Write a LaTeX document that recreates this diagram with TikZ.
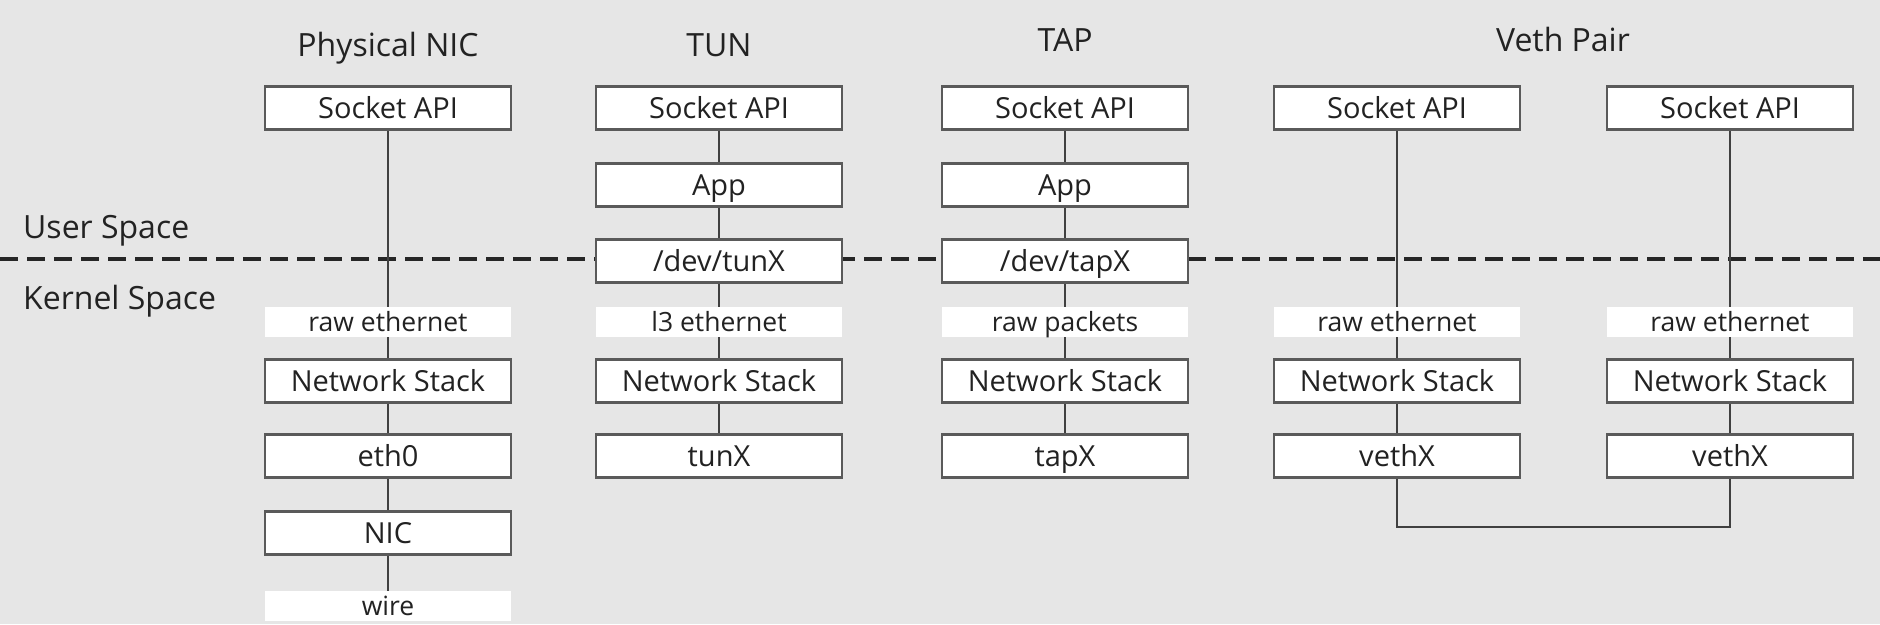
\documentclass[tikz,border=0pt]{standalone}
\usepackage{fontspec}
\setmainfont{Open Sans}
\begin{document}
\begin{tikzpicture}[x=1pt,y=-1pt,
  box/.style={draw=boxline,line width=2.5pt,fill=white,minimum width=246pt,minimum height=43pt,inner sep=0pt,text=txt,font=\fontsize{29}{33}\selectfont,text height=20.7pt,text depth=0pt},
  lbl/.style={fill=white,minimum width=246pt,minimum height=30pt,inner sep=0pt,text=txt,font=\fontsize{26.5}{30}\selectfont,text height=18.9pt,text depth=0pt},
  ttl/.style={text=txt,font=\fontsize{32}{36}\selectfont,inner sep=0pt,text height=22.8pt,text depth=0pt},
  conn/.style={draw=connline,line width=2pt}]
\definecolor{bgc}{HTML}{E6E6E6}
\definecolor{boxline}{HTML}{5A5A5A}
\definecolor{connline}{HTML}{404040}
\definecolor{txt}{HTML}{222222}
\pgfdeclarelayer{bg}\pgfdeclarelayer{lines}
\pgfsetlayers{bg,lines,main}
\begin{pgfonlayer}{bg}
\fill[bgc] (0,0) rectangle (1880,624);
\end{pgfonlayer}
\useasboundingbox (0,0) rectangle (1880,624);
% titles
\node[ttl] (t1) at (388,45) {Physical NIC};
\node[ttl] (t2) at (719,45) {TUN};
\node[ttl] (t3) at (1065,40) {TAP};
\node[ttl] (t4) at (1563,40) {Veth Pair};
\node[ttl,anchor=west] (us) at (23,227) {User Space};
\node[ttl,anchor=west] (ks) at (23,298) {Kernel Space};
% column 1
\node[box] (a1) at (388,108) {Socket API};
\node[lbl] (a2) at (388,322) {raw ethernet};
\node[box] (a3) at (388,381) {Network Stack};
\node[box] (a4) at (388,456) {eth0};
\node[box] (a5) at (388,533) {NIC};
\node[lbl] (a6) at (388,606) {wire};
% column 2
\node[box] (b1) at (719,108) {Socket API};
\node[box] (b2) at (719,185) {App};
\node[box] (b3) at (719,261) {/dev/tunX};
\node[lbl] (b4) at (719,322) {l3 ethernet};
\node[box] (b5) at (719,381) {Network Stack};
\node[box] (b6) at (719,456) {tunX};
% column 3
\node[box] (c1) at (1065,108) {Socket API};
\node[box] (c2) at (1065,185) {App};
\node[box] (c3) at (1065,261) {/dev/tapX};
\node[lbl] (c4) at (1065,322) {raw packets};
\node[box] (c5) at (1065,381) {Network Stack};
\node[box] (c6) at (1065,456) {tapX};
% column 4
\node[box] (d1) at (1397,108) {Socket API};
\node[lbl] (d2) at (1397,322) {raw ethernet};
\node[box] (d3) at (1397,381) {Network Stack};
\node[box] (d4) at (1397,456) {vethX};
% column 5
\node[box] (e1) at (1730,108) {Socket API};
\node[lbl] (e2) at (1730,322) {raw ethernet};
\node[box] (e3) at (1730,381) {Network Stack};
\node[box] (e4) at (1730,456) {vethX};
\coordinate (dl) at (0,259);
\coordinate (dr) at (1880,259);
\begin{pgfonlayer}{lines}
\draw[line width=3.5pt,draw=black!85,dash pattern=on 18pt off 9pt] (dl) -- (dr);
\draw[conn] (a1) -- (a2) (a2) -- (a3) (a3) -- (a4) (a4) -- (a5) (a5) -- (a6);
\draw[conn] (b1) -- (b2) (b2) -- (b3) (b3) -- (b4) (b4) -- (b5) (b5) -- (b6);
\draw[conn] (c1) -- (c2) (c2) -- (c3) (c3) -- (c4) (c4) -- (c5) (c5) -- (c6);
\draw[conn] (d1) -- (d2) (d2) -- (d3) (d3) -- (d4);
\draw[conn] (e1) -- (e2) (e2) -- (e3) (e3) -- (e4);
\draw[conn] (d4.south) -- ++(0,48) -| (e4.south);
\end{pgfonlayer}
\end{tikzpicture}
\end{document}
